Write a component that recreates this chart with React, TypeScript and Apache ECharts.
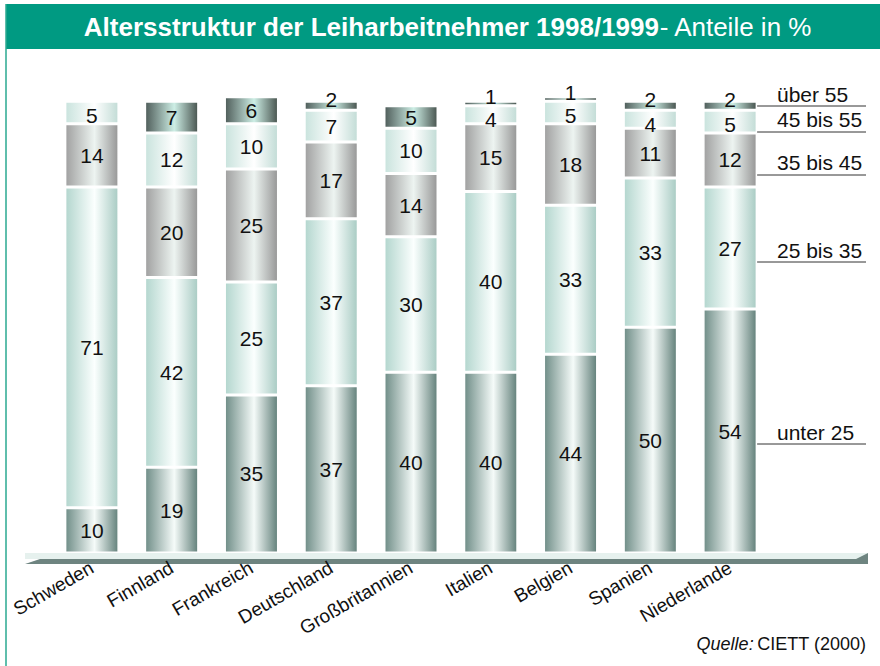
import React, { useEffect, useRef } from "react";
import * as echarts from "echarts";

const categories = ["Schweden", "Finnland", "Frankreich", "Deutschland", "Großbritannien", "Italien", "Belgien", "Spanien", "Niederlande"];
const seriesNames = ["unter 25", "25 bis 35", "35 bis 45", "45 bis 55", "über 55"];
const unter25 = [10, 19, 35, 37, 40, 40, 44, 50, 54];
const bis35 = [71, 42, 25, 37, 30, 40, 33, 33, 27];
const bis45 = [14, 20, 25, 17, 14, 15, 18, 11, 12];
const bis55 = [5, 12, 10, 7, 10, 4, 5, 4, 5];
const ueber55 = [0, 7, 6, 2, 5, 1, 1, 2, 2];

const seriesData = [unter25, bis35, bis45, bis55, ueber55];

const FONT = "Arial, 'Liberation Sans', sans-serif";

const grad = (a: string, b: string, c: string) =>
  new echarts.graphic.LinearGradient(0, 0, 1, 0, [
    { offset: 0, color: a },
    { offset: 0.55, color: b },
    { offset: 1, color: c },
  ]);

const fills = [
  grad("#6f8d87", "#f5fbf9", "#62807a"),
  grad("#b3d6ce", "#fbfffe", "#a8cbc3"),
  grad("#a0a0a0", "#edf4f1", "#969696"),
  grad("#c9e3dd", "#ffffff", "#c2dcd6"),
  grad("#4f5d5a", "#cdeee5", "#48544f"),
];

// legend annotation rows: label text y centre, line y
const legendRows = [
  { name: "über 55", ty: 94, ly: 106 },
  { name: "45 bis 55", ty: 119, ly: 132 },
  { name: "35 bis 45", ty: 162, ly: 175 },
  { name: "25 bis 35", ty: 250, ly: 262 },
  { name: "unter 25", ty: 432, ly: 444 },
];

// small top segments: nudge labels apart as in the reference
const labelOffset = (seriesIdx: number, v: number): number[] => {
  if (seriesIdx === 4 && v === 1) return [0, -7];
  if (seriesIdx === 4 && v <= 2) return [0, -6];
  if (seriesIdx === 3 && v <= 4) return [0, 5];
  if (seriesIdx === 3 && v <= 5) return [0, 3];
  return [0, 0];
};

export default function App() {
  const ref = useRef<HTMLDivElement>(null);
  useEffect(() => {
    if (!ref.current) return;
    const chart = echarts.init(ref.current, null, { renderer: "svg" });
    const graphics: any[] = [
      { type: "rect", shape: { x: 6, y: 4, width: 874, height: 45 }, style: { fill: "#009a82" } },
      { type: "line", shape: { x1: 6, y1: 4, x2: 6, y2: 666 }, style: { stroke: "#2aa890", lineWidth: 1.5 } },
      {
        type: "text",
        x: 448,
        y: 27,
        style: {
          text: "{b|Altersstruktur der Leiharbeitnehmer 1998/1999}{n|- Anteile in %}",
          align: "center",
          verticalAlign: "middle",
          rich: {
            b: { fontFamily: FONT, fontSize: 26, fontWeight: "bold", fill: "#ffffff" },
            n: { fontFamily: FONT, fontSize: 26, fill: "#ffffff" },
          },
        },
      },
      // floor
      { type: "rect", shape: { x: 25, y: 553, width: 843, height: 6 }, style: { fill: "#e6f1ee" } },
      {
        type: "polygon",
        shape: { points: [[25, 564], [40, 559], [856, 559], [868, 553], [868, 564]] },
        style: { fill: "#6e8480" },
      },
      {
        type: "text",
        x: 866,
        y: 644,
        style: {
          text: "{i|Quelle:} {n|CIETT (2000)}",
          align: "right",
          verticalAlign: "middle",
          rich: {
            i: { fontFamily: FONT, fontSize: 18, fontStyle: "italic", fill: "#111" },
            n: { fontFamily: FONT, fontSize: 18, fill: "#111" },
          },
        },
      },
    ];
    legendRows.forEach((r) => {
      graphics.push({
        type: "line",
        shape: { x1: 757, y1: r.ly, x2: 866, y2: r.ly },
        style: { stroke: "#333", lineWidth: 1 },
      });
      graphics.push({
        type: "text",
        x: 777,
        y: r.ty,
        style: { text: r.name, fontFamily: FONT, fontSize: 21, fill: "#111", verticalAlign: "middle" },
      });
    });

    chart.setOption({
      animation: false,
      grid: { left: 52, right: 110, top: 99, bottom: 113 },
      xAxis: {
        type: "category",
        data: categories,
        axisLine: { show: false },
        axisTick: { show: false },
        axisLabel: { rotate: 30, margin: 13, fontFamily: FONT, fontSize: 19, color: "#111", interval: 0 },
      },
      yAxis: { type: "value", min: 0, max: 100.5, show: false, splitLine: { show: false } },
      series: seriesData.map((d, i) => ({
        name: seriesNames[i],
        type: "bar",
        stack: "total",
        barWidth: 54,
        clip: false,
        data: d.map((v) => ({ value: v, label: { offset: labelOffset(i, v) } })),
        itemStyle: { color: fills[i], borderColor: "#ffffff", borderWidth: 1.5 },
        label: {
          show: true,
          position: "inside",
          fontFamily: FONT,
          fontSize: 21,
          color: "#111",
          formatter: (p: any) => (p.value ? String(p.value) : ""),
        },
      })),
      graphic: graphics,
    });
    return () => chart.dispose();
  }, []);
  return <div ref={ref} style={{ position: "absolute", left: 0, top: 0, width: 880, height: 666 }} />;
}
